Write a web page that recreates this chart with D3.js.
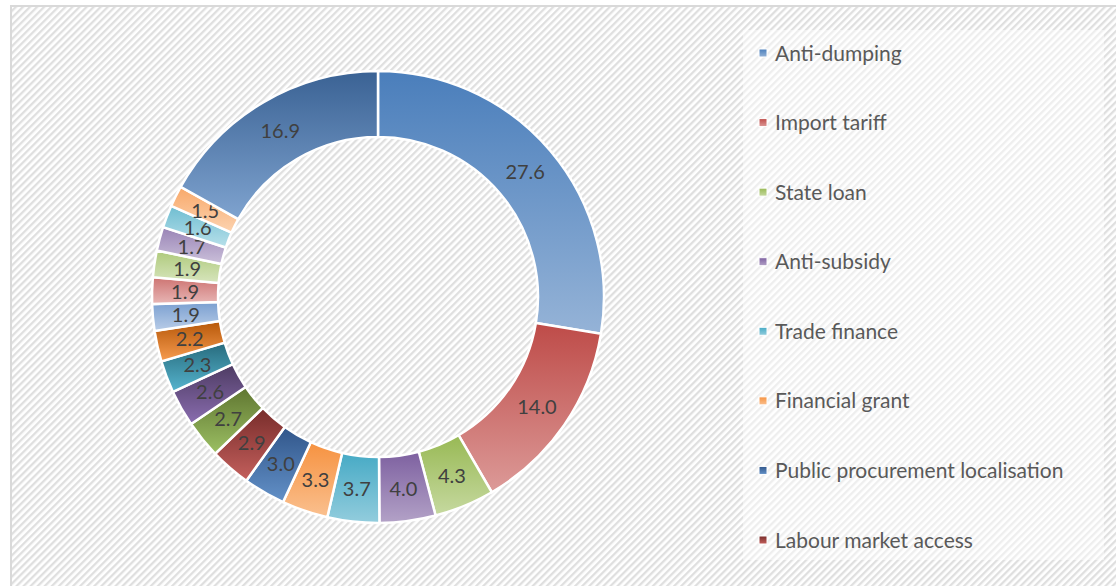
<!DOCTYPE html>
<html>
<head>
<meta charset="utf-8">
<script src="https://cdn.jsdelivr.net/npm/d3@7"></script>
<style>
  body { margin: 0; background: #fff; }
  svg { display: block; }
</style>
</head>
<body>
<div id="chart"></div>
<script>
var width = 1116, height = 586;

// slice values, clockwise from 12 o'clock
var values = [27.6, 14.0, 4.3, 4.0, 3.7, 3.3, 3.0, 2.9, 2.7, 2.6, 2.3, 2.2, 1.9, 1.9, 1.9, 1.7, 1.6, 1.5, 16.9];
// only these legend entries are visible in the chart
var legendLabels = ["Anti-dumping", "Import tariff", "State loan", "Anti-subsidy", "Trade finance",
                    "Financial grant", "Public procurement localisation", "Labour market access"];

// gradient top / bottom colours per slice
var topColors = ["#4a7ebb", "#be4b48", "#98b954", "#7d60a0", "#46aac5", "#f69240",
                 "#31568a", "#772c2a", "#5f7530", "#4d3b62", "#276a7c", "#b65708",
                 "#7a9fd0", "#cd7371", "#aec97a", "#9883b5", "#6fbdd1", "#f8a869", "#3a6294"];
var bottomColors = ["#95b3d7", "#dc9a98", "#c6d9a0", "#b3a2c7", "#93cddd", "#fac08f",
                    "#6391c8", "#c4605d", "#9cc064", "#8a6db0", "#56b5cf", "#f79c50",
                    "#b9cde8", "#e8b7b6", "#d7e5bd", "#cbc0da", "#b7e0ea", "#fcd3b0", "#7fa3cf"];

var cx = 378, cy = 297, outerR = 226, innerR = 160;

var svg = d3.select("#chart").append("svg")
  .attr("width", width)
  .attr("height", height);

var defs = svg.append("defs");

function hatch(id, color) {
  defs.append("pattern")
    .attr("id", id)
    .attr("patternUnits", "userSpaceOnUse")
    .attr("width", 5)
    .attr("height", 5)
    .attr("patternTransform", "rotate(-45)")
    .call(function(p) {
      p.append("rect").attr("width", 5).attr("height", 5).attr("fill", "#fff");
      p.append("rect").attr("width", 5).attr("height", 2.3).attr("fill", color);
    });
}
hatch("hatchBg", "#dfdfdf");
hatch("hatchLegend", "#eeeeee");

values.forEach(function(v, i) {
  var g = defs.append("linearGradient")
    .attr("id", "grad" + i)
    .attr("x1", 0).attr("y1", 0).attr("x2", 0).attr("y2", 1);
  g.append("stop").attr("offset", "0%").attr("stop-color", topColors[i]);
  g.append("stop").attr("offset", "100%").attr("stop-color", bottomColors[i]);
});

// chart area
svg.append("rect")
  .attr("x", 11)
  .attr("y", 6)
  .attr("width", 1120)
  .attr("height", 600)
  .attr("fill", "url(#hatchBg)")
  .attr("stroke", "#d9d9d9")
  .attr("stroke-width", 2);

// legend area
svg.append("rect")
  .attr("x", 743)
  .attr("y", 30)
  .attr("width", 361)
  .attr("height", 530)
  .attr("fill", "url(#hatchLegend)");

var pie = d3.pie().sort(null).value(function(d) { return d; });
var arc = d3.arc().innerRadius(innerR).outerRadius(outerR);

var donut = svg.append("g")
  .attr("transform", "translate(" + cx + "," + cy + ")");

var slices = donut.selectAll(".slice")
  .data(pie(values))
  .enter().append("g")
  .attr("class", "slice");

slices.append("path")
  .attr("d", arc)
  .attr("fill", function(d, i) { return "url(#grad" + i + ")"; })
  .attr("stroke", "#fff")
  .attr("stroke-width", 2.5);

slices.append("text")
  .attr("transform", function(d) { return "translate(" + arc.centroid(d) + ")"; })
  .attr("text-anchor", "middle")
  .attr("dy", "0.36em")
  .attr("font-family", "Lato, 'Noto Sans', sans-serif")
  .attr("font-size", 20)
  .attr("fill", "#404040")
  .text(function(d) { return d3.format(".1f")(d.value); });

// legend
var rowY = d3.scalePoint()
  .domain(legendLabels)
  .range([53, 540]);

var legend = svg.selectAll(".legend")
  .data(legendLabels)
  .enter().append("g")
  .attr("class", "legend")
  .attr("transform", function(d) { return "translate(759," + rowY(d) + ")"; });

legend.append("rect")
  .attr("x", 0)
  .attr("y", -4)
  .attr("width", 8)
  .attr("height", 8)
  .attr("fill", function(d, i) { return "url(#grad" + i + ")"; })
  .attr("stroke", "#fff")
  .attr("stroke-width", 1);

legend.append("text")
  .attr("x", 16)
  .attr("dy", "0.36em")
  .attr("font-family", "Lato, 'Noto Sans', sans-serif")
  .attr("font-size", 21)
  .attr("fill", "#595959")
  .text(function(d) { return d; });
</script>
</body>
</html>
